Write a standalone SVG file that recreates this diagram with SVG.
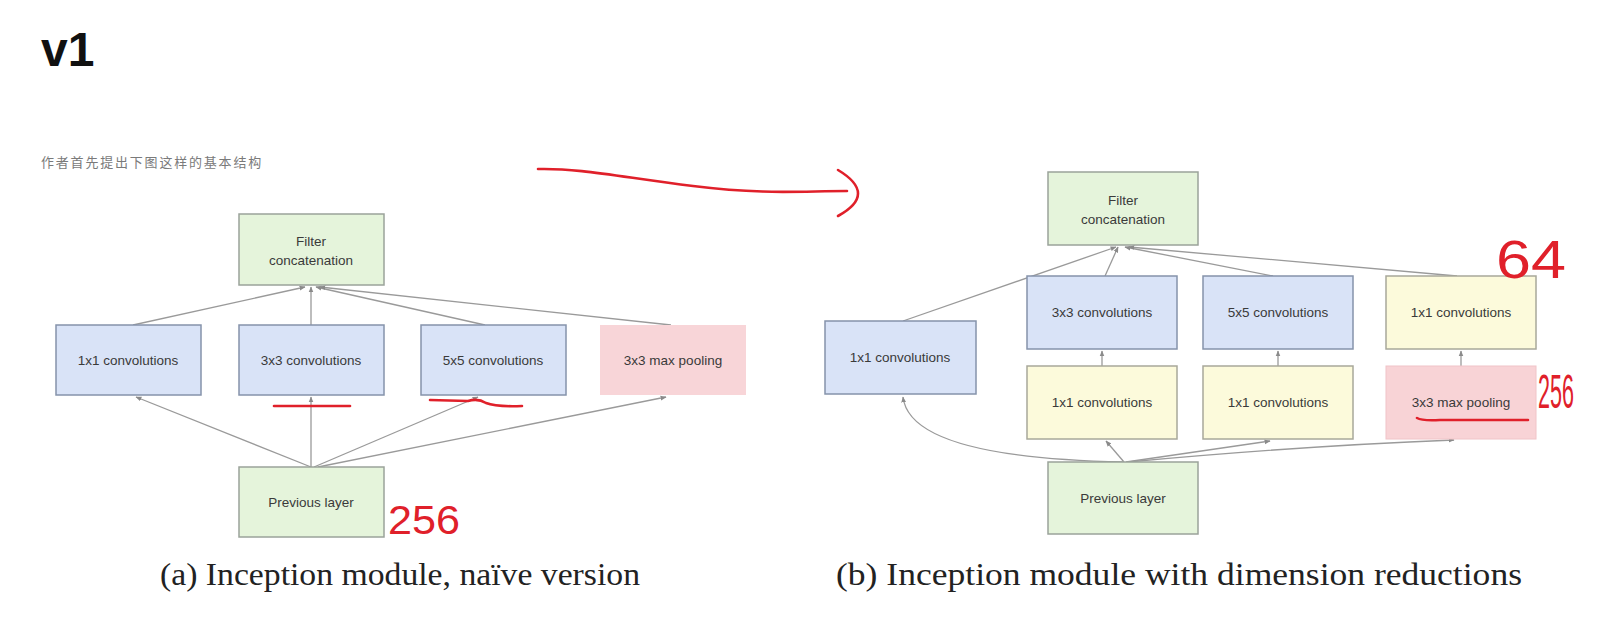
<svg xmlns="http://www.w3.org/2000/svg" width="1616" height="623" viewBox="0 0 1616 623">
<style>
.lbl{font-family:"Liberation Sans",Arial,sans-serif;font-size:13.5px;fill:#3a3a3a;text-anchor:middle}
.blue{fill:#d9e3f7;stroke:#8593ab;stroke-width:1.5}
.green{fill:#e5f4db;stroke:#9aa39a;stroke-width:1.5}
.yellow{fill:#fcfadb;stroke:#a8a89a;stroke-width:1.5}
.pink{fill:#f8d5d8;stroke:none}
.pinkb{fill:#f8d3d6;stroke:#f0c4c8;stroke-width:1}
.con{fill:none;stroke:#9a9a9a;stroke-width:1.3;marker-end:url(#ah)}
.red{fill:none;stroke:#e0202a;stroke-width:2.6;stroke-linecap:round;stroke-linejoin:round}
.hand{font-family:"Liberation Sans",Arial,sans-serif;fill:#e0202a}
.cap{font-family:"Liberation Serif","Times New Roman",serif;font-size:31px;fill:#222}
</style>
<defs>
<marker id="ah" viewBox="0 0 10 10" refX="9" refY="5" markerWidth="6" markerHeight="6" orient="auto" markerUnits="userSpaceOnUse">
<path d="M0,1 L10,5 L0,9 z" fill="#8a8a8a"/>
</marker>
</defs>
<rect width="1616" height="623" fill="#ffffff"/>

<text x="41" y="66" font-family="Liberation Sans,Arial,sans-serif" font-weight="bold" font-size="48" fill="#111">v1</text>
<text x="41" y="167" font-family="Liberation Sans,'Noto Sans CJK SC',sans-serif" font-size="13" letter-spacing="1.8" fill="#7a7a7a">作者首先提出下图这样的基本结构</text>

<g id="connectors">
<line class="con" x1="133" y1="325" x2="305" y2="287"/>
<line class="con" x1="311" y1="325" x2="311" y2="287"/>
<line class="con" x1="485" y1="325" x2="316" y2="287"/>
<line class="con" x1="671" y1="325" x2="320" y2="287"/>
<line class="con" x1="311" y1="467" x2="136" y2="397"/>
<line class="con" x1="311" y1="467" x2="311" y2="397"/>
<line class="con" x1="314" y1="467" x2="478" y2="397"/>
<line class="con" x1="318" y1="467" x2="666" y2="397"/>
<line class="con" x1="903" y1="321" x2="1116" y2="247"/>
<line class="con" x1="1105" y1="276" x2="1118" y2="247"/>
<line class="con" x1="1273" y1="276" x2="1125" y2="247"/>
<line class="con" x1="1457" y1="276" x2="1129" y2="247"/>
<line class="con" x1="1102" y1="366" x2="1102" y2="351"/>
<line class="con" x1="1278" y1="366" x2="1278" y2="351"/>
<line class="con" x1="1461" y1="366" x2="1461" y2="351"/>
<path class="con" d="M1124,462 Q910,458 903,397"/>
<line class="con" x1="1124" y1="462" x2="1106" y2="441"/>
<line class="con" x1="1126" y1="462" x2="1270" y2="441"/>
<path class="con" d="M1128,462 Q1300,446 1454,440"/>
</g>

<g id="concat_a"><rect class="green" x="239" y="214" width="145" height="71"/><text class="lbl" x="311" y="246">Filter</text><text class="lbl" x="311" y="265">concatenation</text></g>
<g id="conv1_a"><rect class="blue" x="56" y="325" width="145" height="70"/><text class="lbl" x="128" y="365">1x1 convolutions</text></g>
<g id="conv3_a"><rect class="blue" x="239" y="325" width="145" height="70"/><text class="lbl" x="311" y="365">3x3 convolutions</text></g>
<g id="conv5_a"><rect class="blue" x="421" y="325" width="145" height="70"/><text class="lbl" x="493" y="365">5x5 convolutions</text></g>
<g id="pool_a"><rect class="pink" x="600" y="325" width="146" height="70"/><text class="lbl" x="673" y="365">3x3 max pooling</text></g>
<g id="prev_a"><rect class="green" x="239" y="467" width="145" height="70"/><text class="lbl" x="311" y="507">Previous layer</text></g>

<g id="concat_b"><rect class="green" x="1048" y="172" width="150" height="73"/><text class="lbl" x="1123" y="205">Filter</text><text class="lbl" x="1123" y="224">concatenation</text></g>
<g id="conv1_b"><rect class="blue" x="825" y="321" width="151" height="73"/><text class="lbl" x="900" y="362">1x1 convolutions</text></g>
<g id="conv3_b"><rect class="blue" x="1027" y="276" width="150" height="73"/><text class="lbl" x="1102" y="317">3x3 convolutions</text></g>
<g id="conv5_b"><rect class="blue" x="1203" y="276" width="150" height="73"/><text class="lbl" x="1278" y="317">5x5 convolutions</text></g>
<g id="conv1_pool_b"><rect class="yellow" x="1386" y="276" width="150" height="73"/><text class="lbl" x="1461" y="317">1x1 convolutions</text></g>
<g id="red3_b"><rect class="yellow" x="1027" y="366" width="150" height="73"/><text class="lbl" x="1102" y="407">1x1 convolutions</text></g>
<g id="red5_b"><rect class="yellow" x="1203" y="366" width="150" height="73"/><text class="lbl" x="1278" y="407">1x1 convolutions</text></g>
<g id="pool_b"><rect class="pinkb" x="1386" y="366" width="150" height="73"/><text class="lbl" x="1461" y="407">3x3 max pooling</text></g>
<g id="prev_b"><rect class="green" x="1048" y="462" width="150" height="72"/><text class="lbl" x="1123" y="503">Previous layer</text></g>

<g id="annotations">
<path class="red" d="M274,406 L350,406"/>
<path class="red" d="M430,400 L468,401 Q478,398 486,403 Q496,407 522,406"/>
<path class="red" d="M538,169 C580,168 620,177 693,186 S800,191 847,191"/>
<path class="red" d="M838,170 Q878,194 838,216"/>
<path class="red" d="M1417,418 Q1422,421 1440,420 L1528,420"/>
<text class="hand" x="388" y="534" font-size="40" textLength="72" lengthAdjust="spacingAndGlyphs">256</text>
<text class="hand" x="1496" y="278" font-size="54" textLength="70" lengthAdjust="spacingAndGlyphs">64</text>
<text class="hand" x="1538" y="408" font-size="48" textLength="36" lengthAdjust="spacingAndGlyphs">256</text>
</g>

<text class="cap" x="160" y="585" textLength="480" lengthAdjust="spacingAndGlyphs">(a) Inception module, naïve version</text>
<text class="cap" x="836" y="585" textLength="686" lengthAdjust="spacingAndGlyphs">(b) Inception module with dimension reductions</text>
</svg>
